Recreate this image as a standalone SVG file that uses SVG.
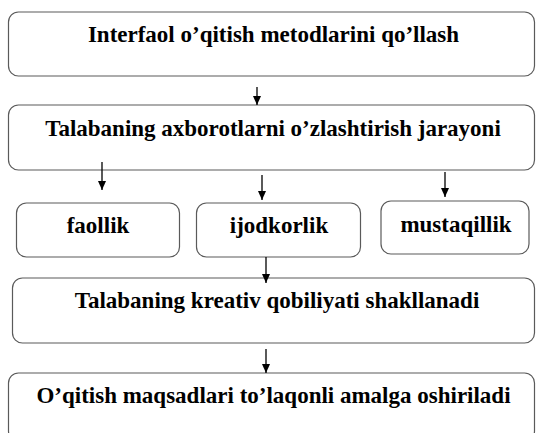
<svg xmlns="http://www.w3.org/2000/svg" width="536" height="433" viewBox="0 0 536 433">
  <defs>
    <style>
      .box { fill: #ffffff; stroke: #5a5a5a; stroke-width: 1.2; }
      .lbl { font-family: 'Liberation Serif', 'DejaVu Serif', serif; font-weight: 700; font-size: 23px; fill: #000000; text-anchor: middle; }
      .conn { stroke: #000000; stroke-width: 1.3; fill: none; marker-end: url(#arrow); }
    </style>
    <marker id="arrow" markerWidth="9" markerHeight="8" refX="9" refY="4" orient="auto" markerUnits="userSpaceOnUse" viewBox="0 0 9 8">
      <path d="M0,0 L9,4 L0,8 Z" fill="#000000"/>
    </marker>
  </defs>
  <rect width="536" height="433" fill="#ffffff"/>

  <g id="n1">
    <rect class="box" x="8.5" y="12" width="526" height="64" rx="10"/>
    <text class="lbl" font-family="Liberation Serif, serif" x="273.5" y="42">Interfaol o’qitish metodlarini qo’llash</text>
  </g>
  <g id="n2">
    <rect class="box" x="8.5" y="105" width="526" height="65" rx="10"/>
    <text class="lbl" font-family="Liberation Serif, serif" x="273" y="136">Talabaning axborotlarni o’zlashtirish jarayoni</text>
  </g>
  <g id="n3">
    <rect class="box" x="16.5" y="203" width="163" height="54" rx="10"/>
    <text class="lbl" font-family="Liberation Serif, serif" x="98" y="233">faollik</text>
  </g>
  <g id="n4">
    <rect class="box" x="196.5" y="203" width="164" height="54" rx="10"/>
    <text class="lbl" font-family="Liberation Serif, serif" x="279" y="233">ijodkorlik</text>
  </g>
  <g id="n5">
    <rect class="box" x="381" y="201" width="148" height="53" rx="10"/>
    <text class="lbl" font-family="Liberation Serif, serif" x="456" y="231.5">mustaqillik</text>
  </g>
  <g id="n6">
    <rect class="box" x="12.5" y="278" width="522" height="65" rx="10"/>
    <text class="lbl" font-family="Liberation Serif, serif" x="277" y="308">Talabaning kreativ qobiliyati shakllanadi</text>
  </g>
  <g id="n7">
    <rect class="box" x="8.5" y="373" width="526" height="68" rx="10"/>
    <text class="lbl" font-family="Liberation Serif, serif" x="273.5" y="403">O’qitish maqsadlari to’laqonli amalga oshiriladi</text>
  </g>

  <g id="connectors">
    <line class="conn" x1="257" y1="87" x2="257" y2="105"/>
    <line class="conn" x1="102" y1="162" x2="102" y2="190"/>
    <line class="conn" x1="262" y1="175" x2="262" y2="200"/>
    <line class="conn" x1="445" y1="172" x2="445" y2="197"/>
    <line class="conn" x1="266" y1="257" x2="266" y2="283"/>
    <line class="conn" x1="266" y1="349" x2="266" y2="373"/>
  </g>
</svg>
